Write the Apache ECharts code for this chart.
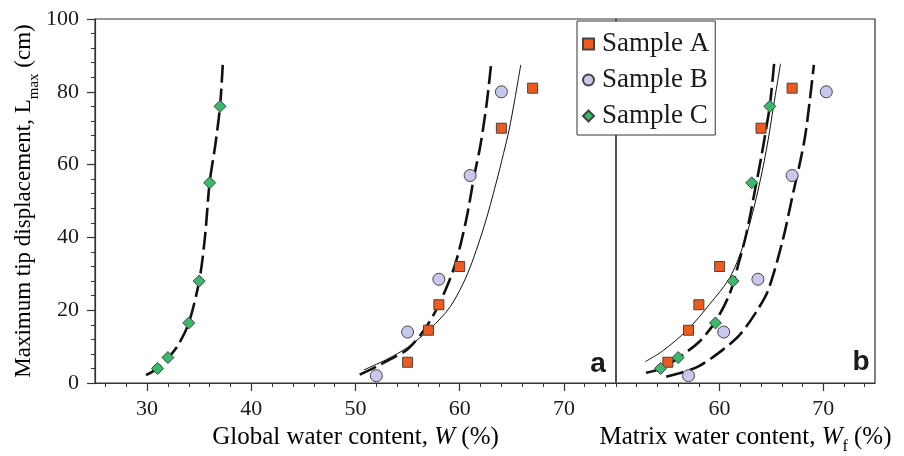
<!DOCTYPE html>
<html><head><meta charset="utf-8">
<script src="https://cdn.jsdelivr.net/npm/echarts@6/dist/echarts.min.js"></script>
<style>html,body{margin:0;padding:0;background:#fff}#c{width:904px;height:456px}</style>
</head><body><div id="c"></div>
<script>
// ---- tick labels ----
const yTicks = [0, 20, 40, 60, 80, 100];
const xTicksGlobal = [30, 40, 50, 60, 70];
const xMinorGlobal = [26, 28, 32, 34, 36, 38, 42, 44, 46, 48, 52, 54, 56, 58, 62, 64, 66, 68, 72, 74];
const xTicksMatrix = [60, 70];
const xMinorMatrix = [50, 52, 54, 56, 58, 62, 64, 66, 68, 72, 74];

// ---- panel a: global water content W (%) vs Lmax (cm) ----
const sampleA_W = [55, 57, 58, 60, 64, 67];
const sampleA_L = [5.7, 14.5, 21.5, 32, 70, 81];
const sampleB_W = [52, 55, 58, 61, 64];
const sampleB_L = [2, 14, 28.5, 57, 80];
const sampleC_W = [31, 32, 34, 35, 36, 37];
const sampleC_L = [4, 7, 16.5, 28, 55, 76];

// fitted curves
const fitC_W = [29.9, 31, 32, 33, 34, 35, 35.55, 36, 36.55, 37, 37.26];
const fitC_L = [2.2, 4, 6.8, 10.5, 16.5, 28, 40, 55, 65.5, 76, 87.4];
const fitDashA_W = [50.4, 52, 53.4, 55, 56.6, 58, 59.5, 60.6, 61.4, 62, 62.6, 63];
const fitDashA_L = [2.3, 4.5, 6.6, 9.3, 14.6, 21.5, 32, 44.5, 57, 65.5, 77, 87.2];
const fitThinA_W = [50.8, 53, 55, 57.2, 59.1, 60.75, 62.34, 63.5, 64.2, 64.74, 65.28, 65.86];
const fitThinA_L = [3.6, 6.5, 9.8, 15, 21, 30, 43, 55, 63, 69.5, 77.8, 87.4];

// ---- panel b: matrix water content Wf (%) vs Lmax (cm) ----
const sampleA_Wf = [55, 57, 58, 60, 64, 67];
const sampleB_Wf = [57, 60.4, 63.7, 67, 70.3];
const sampleC_Wf = [54.3, 56, 59.6, 61.3, 63.1, 64.85];

const fitThinB_W = [52.85, 54.5, 56.9, 59, 61, 62.3, 63.3, 64.1, 64.7, 65.2, 65.55, 65.88];
const fitThinB_L = [5.9, 8.8, 14.6, 21.5, 29, 38, 48, 58, 67, 76, 82, 87.7];
const fitDashC_W = [52.9, 54.4, 56.1, 58.06, 59.6, 61, 61.8, 62.6, 63.55, 64.05, 64.5, 64.85, 65.26];
const fitDashC_L = [2.8, 4, 7.1, 11.4, 16.9, 24.7, 32.5, 41.2, 55, 62.5, 70, 76.2, 87.7];
const fitDashB_W = [54.85, 56.5, 58.06, 60.3, 61.94, 63.55, 64.7, 66.1, 67.1, 67.75, 68.25, 68.7, 69.1];
const fitDashB_L = [1.7, 3, 4.7, 9.1, 13.2, 19.6, 25.6, 39.3, 52.2, 60.4, 67.7, 77.5, 87.4];

const zip = (a, b) => a.map((v, i) => [v, b[i]]);

const SERIF = 'Liberation Serif';
const TXT = '#1a1a1a';
const AX = '#333';
const colA = '#ef5b1e', colB = '#c8c8ee', colC = '#3cb86a';

const dashStyle = { color: '#111', width: 2.6, type: [18, 6] };
const thinStyle = { color: '#111', width: 1 };

function lineSeries(name, w, l, style, xi, yi) {
  return { name, type: 'line', xAxisIndex: xi, yAxisIndex: yi, data: zip(w, l),
    showSymbol: false, smooth: 0.3, lineStyle: style, z: 2, silent: true };
}
function scat(name, w, l, symbol, size, color, xi, yi) {
  return { name, type: 'scatter', xAxisIndex: xi, yAxisIndex: yi, data: zip(w, l),
    symbol, symbolSize: size, z: 5,
    itemStyle: { color, borderColor: '#444', borderWidth: 1, opacity: 1 } };
}

function mainX(grid, min, max, ticks) {
  return { gridIndex: grid, type: 'value', min, max, position: 'bottom',
    axisLine: { show: true, lineStyle: { color: AX, width: 1.2 } },
    axisTick: { show: true, customValues: ticks, length: 8, inside: false, lineStyle: { color: AX, width: 1.2 } },
    axisLabel: { show: true, customValues: ticks, margin: 15, fontFamily: SERIF, fontSize: 22, color: TXT },
    splitLine: { show: false } };
}
function minorX(grid, min, max, ticks) {
  return { gridIndex: grid, type: 'value', min, max, position: 'bottom',
    axisLine: { show: false },
    axisTick: { show: true, customValues: ticks, length: 4, lineStyle: { color: AX, width: 1 } },
    axisLabel: { show: false }, splitLine: { show: false } };
}

const chart = echarts.init(document.getElementById('c'), null, { renderer: 'canvas' });
const xRich = {
  a: { fontFamily: SERIF, fontSize: 25, color: TXT, lineHeight: 30, verticalAlign: 'top' },
  i: { fontFamily: SERIF, fontSize: 25, fontStyle: 'italic', color: TXT, lineHeight: 30, verticalAlign: 'top' },
  s: { fontFamily: SERIF, fontSize: 16, color: TXT, lineHeight: 16, verticalAlign: 'bottom' }
};
const yRich = {
  a: { fontFamily: SERIF, fontSize: 23, color: TXT, lineHeight: 30, verticalAlign: 'top' },
  s: { fontFamily: SERIF, fontSize: 15, color: TXT, lineHeight: 16, verticalAlign: 'bottom' }
};
chart.setOption({
  animation: false,
  backgroundColor: '#fff',
  grid: [
    { left: 95, top: 19, width: 521, height: 364, show: true, borderColor: AX, borderWidth: 1.2, backgroundColor: 'transparent' },
    { left: 616, top: 19, width: 259, height: 364, show: true, borderColor: AX, borderWidth: 1.2, backgroundColor: 'transparent' }
  ],
  xAxis: [
    mainX(0, 25, 75, xTicksGlobal),
    minorX(0, 25, 75, xMinorGlobal),
    mainX(1, 50, 75, xTicksMatrix),
    minorX(1, 50, 75, xMinorMatrix)
  ],
  yAxis: [
    { gridIndex: 0, type: 'value', min: 0, max: 100, interval: 20, position: 'left',
      axisLine: { show: true, lineStyle: { color: AX, width: 1.2 } },
      axisTick: { show: true, length: 8, lineStyle: { color: AX, width: 1.2 } },
      minorTick: { show: true, splitNumber: 5, length: 4, lineStyle: { color: AX, width: 1 } },
      axisLabel: { margin: 16, fontFamily: SERIF, fontSize: 22, color: TXT },
      splitLine: { show: false } },
    { gridIndex: 1, type: 'value', min: 0, max: 100, show: false, splitLine: { show: false } }
  ],
  legend: {
    data: ['Sample A', 'Sample B', 'Sample C'],
    orient: 'vertical', left: 577, top: 21,
    backgroundColor: '#fff', borderColor: AX, borderWidth: 1,
    padding: [8, 6, 4, 5], itemWidth: 11, itemHeight: 11, itemGap: 6,
    selectedMode: false, z: 10,
    textStyle: { fontFamily: SERIF, fontSize: 27, color: TXT, lineHeight: 30, padding: [0, 0, 0, 3] }
  },
  graphic: [
    { type: 'text', x: 355.5, y: 440, z: 20, style: { text: '{a|Global water content, }{i|W}{a| (%)}', rich: xRich, align: 'center', verticalAlign: 'middle' } },
    { type: 'text', x: 745.5, y: 440, z: 20, style: { text: '{a|Matrix water content, }{i|W}{s|f}{a| (%)}', rich: xRich, align: 'center', verticalAlign: 'middle' } },
    { type: 'text', x: 27, y: 201, rotation: Math.PI / 2, z: 20, style: { text: '{a|Maximum tip displacement, L}{s|max}{a| (cm)}', rich: yRich, align: 'center', verticalAlign: 'middle' } },
    { type: 'text', x: 598, y: 364, z: 20, style: { text: 'a', font: 'bold 28px "Liberation Sans"', fill: TXT, align: 'center', verticalAlign: 'middle' } },
    { type: 'text', x: 861, y: 362, z: 20, style: { text: 'b', font: 'bold 28px "Liberation Sans"', fill: TXT, align: 'center', verticalAlign: 'middle' } }
  ],
  series: [
    lineSeries('fitC', fitC_W, fitC_L, dashStyle, 0, 0),
    lineSeries('fitDashA', fitDashA_W, fitDashA_L, dashStyle, 0, 0),
    lineSeries('fitThinA', fitThinA_W, fitThinA_L, thinStyle, 0, 0),
    scat('Sample A', sampleA_W, sampleA_L, 'rect', 10, colA, 0, 0),
    scat('Sample B', sampleB_W, sampleB_L, 'circle', 12, colB, 0, 0),
    scat('Sample C', sampleC_W, sampleC_L, 'diamond', 12, colC, 0, 0),
    lineSeries('fitThinB', fitThinB_W, fitThinB_L, thinStyle, 2, 1),
    lineSeries('fitDashC', fitDashC_W, fitDashC_L, dashStyle, 2, 1),
    lineSeries('fitDashB', fitDashB_W, fitDashB_L, dashStyle, 2, 1),
    scat('Sample A', sampleA_Wf, sampleA_L, 'rect', 10, colA, 2, 1),
    scat('Sample B', sampleB_Wf, sampleB_L, 'circle', 12, colB, 2, 1),
    scat('Sample C', sampleC_Wf, sampleC_L, 'diamond', 12, colC, 2, 1)
  ]
});
</script></body></html>
